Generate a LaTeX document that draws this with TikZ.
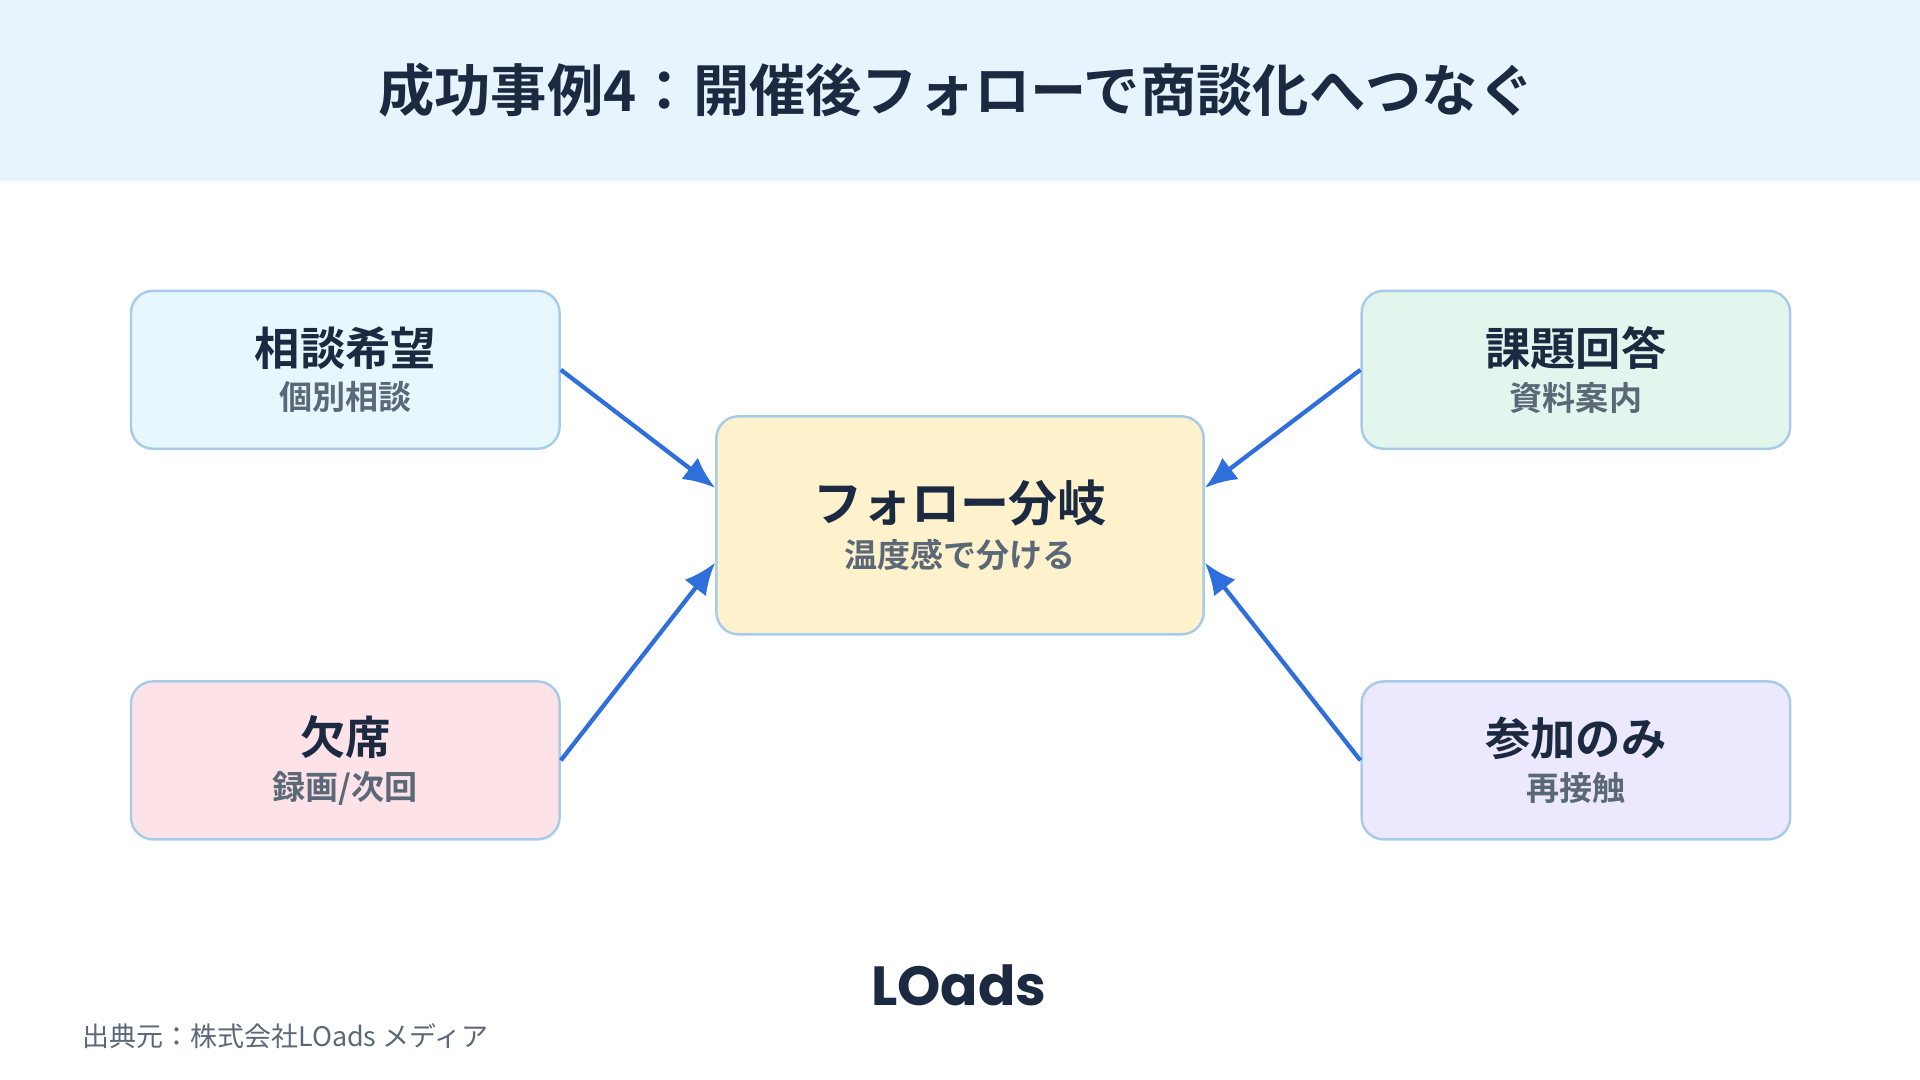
\documentclass[tikz,border=0pt]{standalone}
\usepackage{fontspec}
\setmainfont{Noto Sans CJK JP}
\newfontfamily\jpb{Noto Sans CJK JP Bold}
\newfontfamily\lgf{Poppins}
\usetikzlibrary{calc,arrows.meta}
\definecolor{hdr}{HTML}{E8F4FD}
\definecolor{ttl}{HTML}{1B2A41}
\definecolor{sub}{HTML}{5B6878}
\definecolor{bd}{HTML}{A9CBEA}
\definecolor{arr}{HTML}{2F6FDC}
\definecolor{ftl}{HTML}{E6F7FD}
\definecolor{ftr}{HTML}{E3F6EE}
\definecolor{fbl}{HTML}{FDE3E8}
\definecolor{fbr}{HTML}{ECE8FD}
\definecolor{fc}{HTML}{FEF2CC}
\tikzset{x=1pt,y=-1pt,
 card/.style={draw=bd,line width=2pt,rounded corners=18pt,minimum width=350pt,minimum height=129pt,align=center,inner sep=0pt},
 conn/.style={draw=arr,line width=3.5pt,-{Latex[length=26pt,width=22pt]}}}
\newcommand{\cardtext}[3]{{\jpb\fontsize{#1}{#1}\selectfont\color{ttl}#2}\\[9pt]{\jpb\fontsize{27}{27}\selectfont\color{sub}#3}}
\begin{document}
\begin{tikzpicture}
\useasboundingbox (0,0) rectangle (1568,882);
\fill[white] (0,0) rectangle (1568,882);
\fill[hdr] (0,0) rectangle (1568,148);
\node[font=\jpb\fontsize{46}{46}\selectfont,text=ttl] (title) at (781,74) {成功事例4：開催後フォローで商談化へつなぐ};
\node[card,fill=ftl] (tl) at (282,302) {\cardtext{37}{相談希望}{個別相談}};
\node[card,fill=ftr] (tr) at (1287,302) {\cardtext{37}{課題回答}{資料案内}};
\node[card,fill=fbl] (bl) at (282,621) {\cardtext{37}{欠席}{録画/次回}};
\node[card,fill=fbr] (br) at (1287,621) {\cardtext{37}{参加のみ}{再接触}};
\node[card,fill=fc,minimum width=398pt,minimum height=178pt] (c) at (784,429) {\cardtext{40}{フォロー分岐}{温度感で分ける}};
\draw[conn] (tl.east) -- ($(c.north west)!0.33!(c.south west)$);
\draw[conn] (tr.west) -- ($(c.north east)!0.33!(c.south east)$);
\draw[conn] (bl.east) -- ($(c.north west)!0.67!(c.south west)$);
\draw[conn] (br.west) -- ($(c.north east)!0.67!(c.south east)$);
\node[font=\lgf\bfseries\fontsize{45}{45}\selectfont,text=ttl] (logo) at (783,805) {LOads};
\node[anchor=west,font=\fontsize{22}{22}\selectfont,text=sub] (src) at (64,846) {出典元：株式会社LOads メディア};
\end{tikzpicture}
\end{document}
